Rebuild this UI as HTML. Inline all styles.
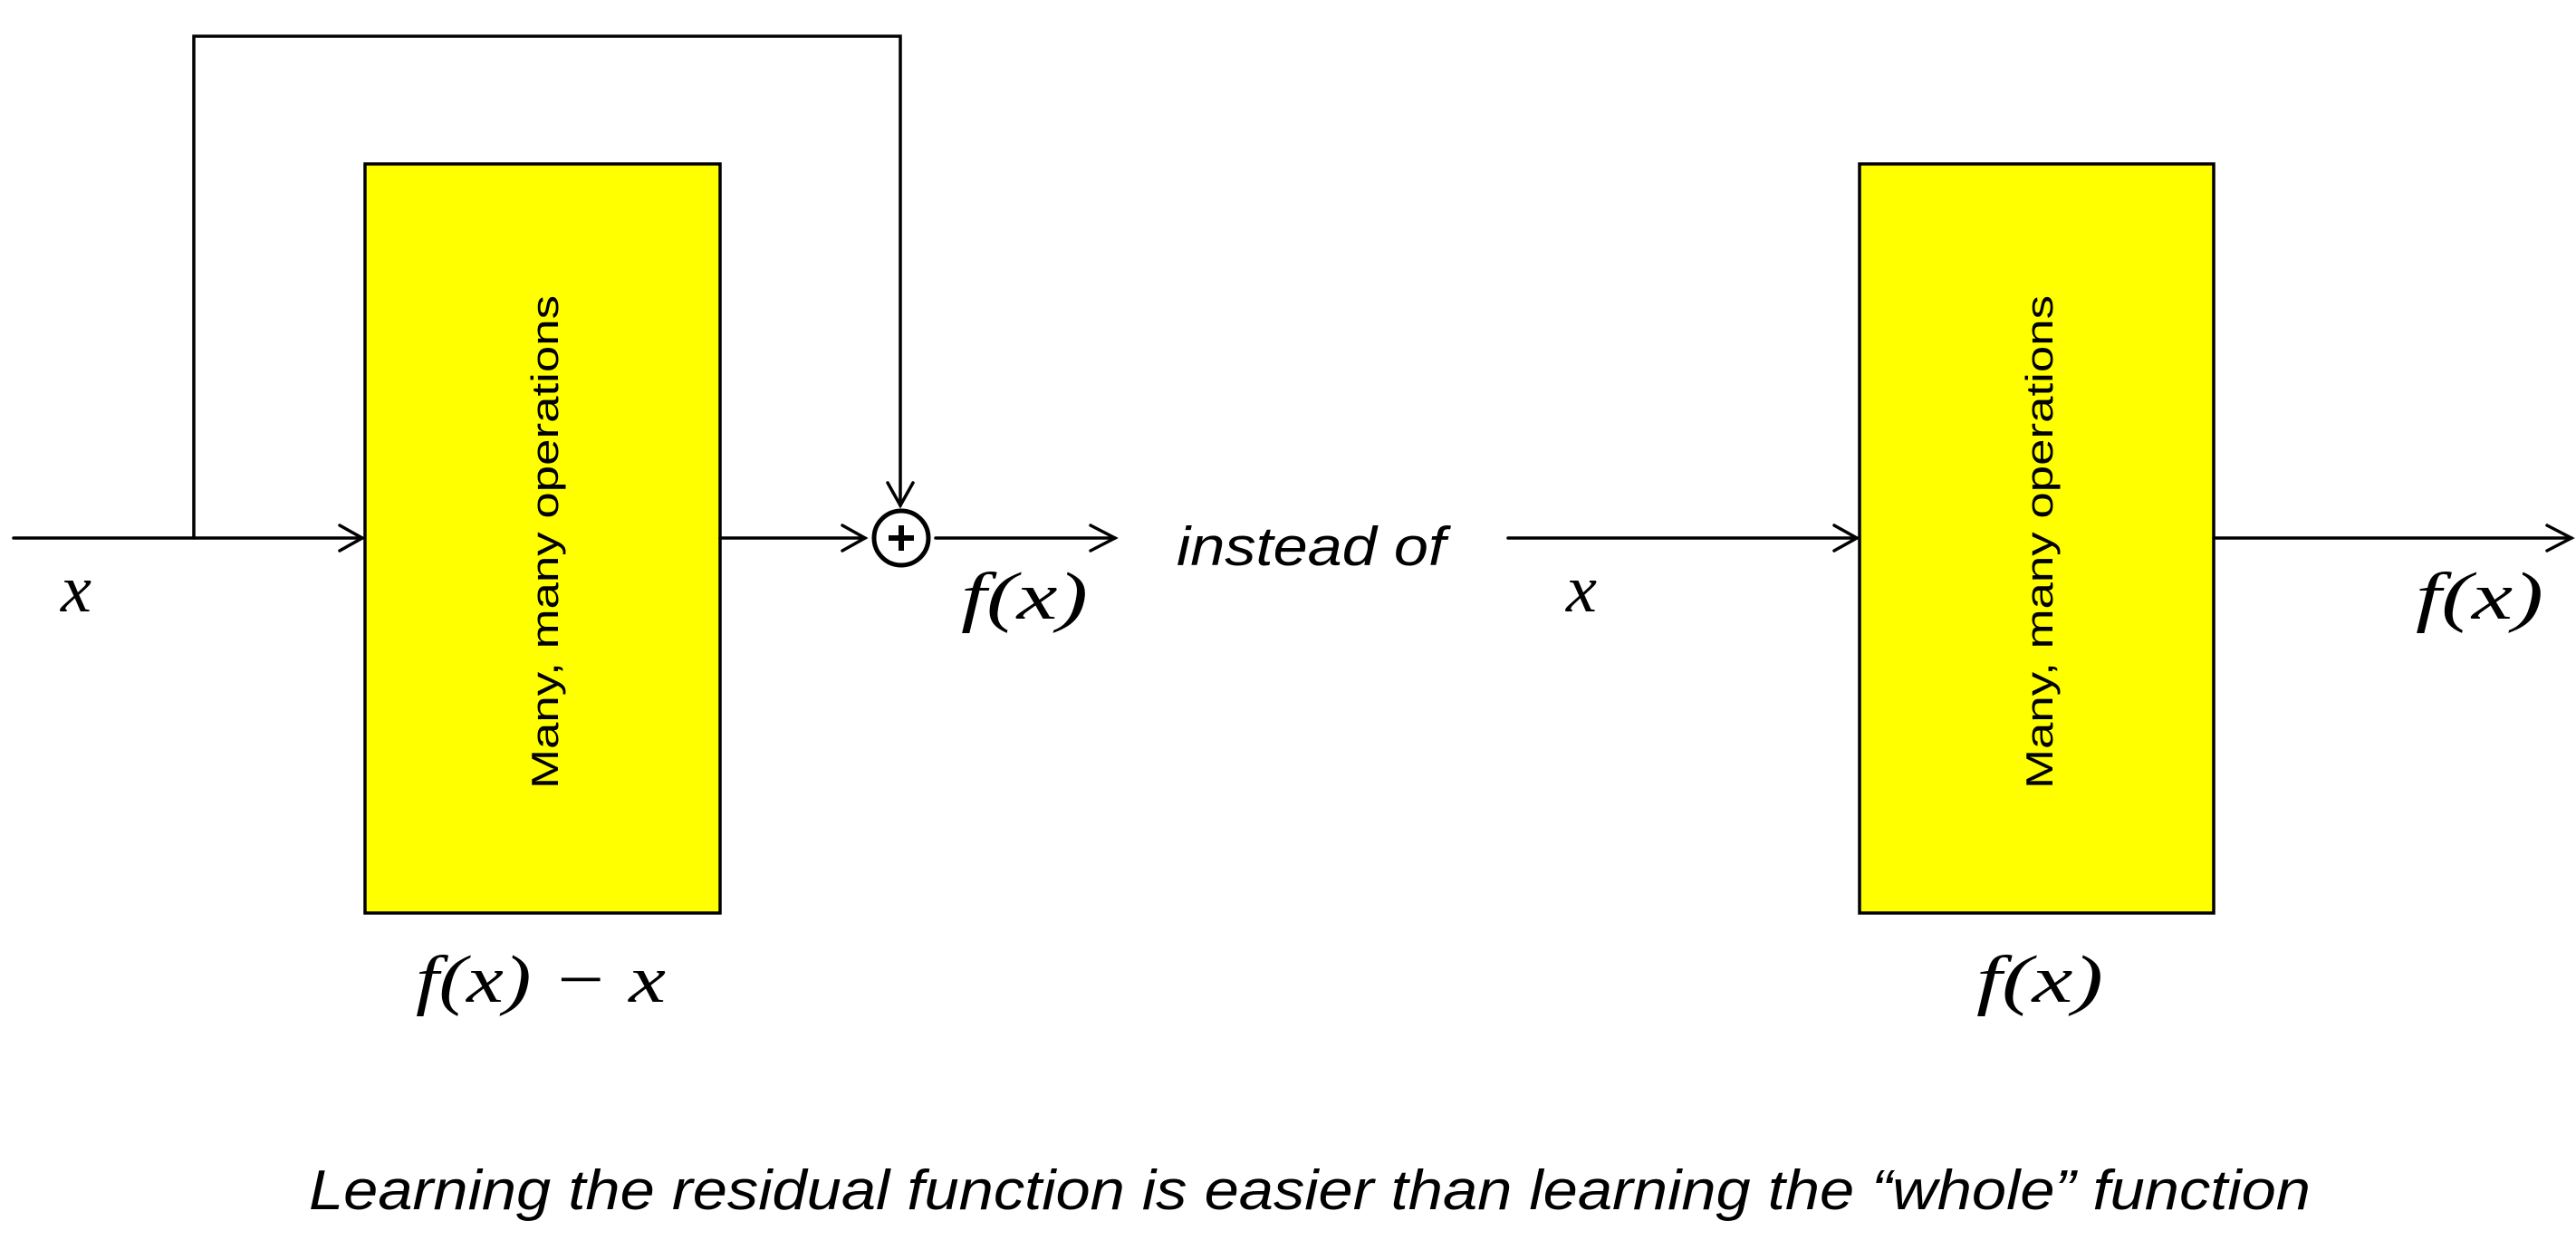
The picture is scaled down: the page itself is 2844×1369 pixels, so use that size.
<!DOCTYPE html>
<html><head><meta charset="utf-8"><style>html,body{margin:0;padding:0;background:#fff}svg{display:block}</style></head>
<body>
<svg width="2844" height="1369" viewBox="0 0 2844 1369" xmlns="http://www.w3.org/2000/svg">
<g fill="none" stroke="#000" stroke-width="3.5" stroke-linecap="round">
<rect x="403" y="181" width="392" height="827" fill="#ffff00"/>
<line x1="15" y1="594" x2="400" y2="594"/>
<polyline points="375,580 400,594 375,608"/>
<polyline points="214,594 214,40 994,40 994,558"/>
<polyline points="980,533 994,558 1008,533"/>
<line x1="795" y1="594" x2="955" y2="594"/>
<polyline points="930,580 955,594 930,608"/>
<circle cx="995" cy="594" r="30" stroke-width="5"/>
<line x1="1033" y1="594" x2="1231" y2="594"/>
<polyline points="1204,580 1231,594 1204,608"/>
<rect x="2053" y="181" width="391" height="827" fill="#ffff00"/>
<line x1="1665" y1="594" x2="2050" y2="594"/>
<polyline points="2025,580 2050,594 2025,608"/>
<line x1="2444" y1="594" x2="2839" y2="594"/>
<polyline points="2812,580 2839,594 2812,608"/>
</g>
<g stroke="#000" stroke-width="6"><line x1="981" y1="594" x2="1009" y2="594"/><line x1="995" y1="580" x2="995" y2="608"/></g>
<g font-family="Liberation Serif, serif" font-style="italic" font-size="74" fill="#000">
<text x="67" y="675" textLength="34" lengthAdjust="spacingAndGlyphs">x</text>
<text x="1061" y="683" textLength="140" lengthAdjust="spacingAndGlyphs">f(x)</text>
<text x="459" y="1106" textLength="276" lengthAdjust="spacingAndGlyphs">f(x) − x</text>
<text x="1729" y="675" textLength="34" lengthAdjust="spacingAndGlyphs">x</text>
<text x="2667" y="683" textLength="141" lengthAdjust="spacingAndGlyphs">f(x)</text>
<text x="2182" y="1106" textLength="140" lengthAdjust="spacingAndGlyphs">f(x)</text>
</g>
<g font-family="Liberation Sans, sans-serif" font-style="italic" fill="#000">
<text x="1299" y="624" font-size="60" textLength="297" lengthAdjust="spacingAndGlyphs">instead of</text>
<text x="341" y="1335" font-size="62" textLength="2210" lengthAdjust="spacingAndGlyphs">Learning the residual function is easier than learning the “whole” function</text>
</g>
<g font-family="Liberation Sans, sans-serif" font-size="42" fill="#000">
<text transform="translate(616,871) rotate(-90)" textLength="545" lengthAdjust="spacingAndGlyphs">Many, many operations</text>
<text transform="translate(2266,871) rotate(-90)" textLength="545" lengthAdjust="spacingAndGlyphs">Many, many operations</text>
</g>
</svg>
</body></html>
